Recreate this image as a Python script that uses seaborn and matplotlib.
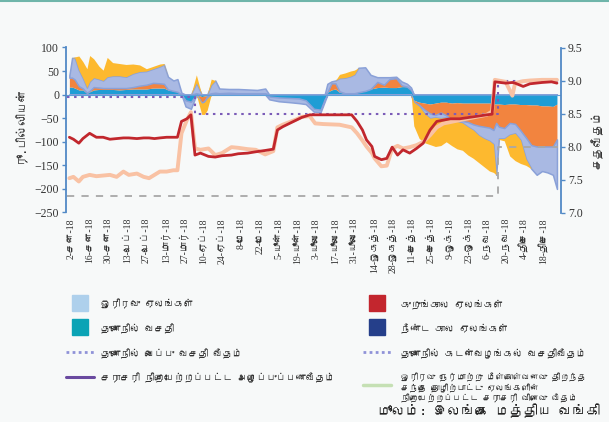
import numpy as np
import pandas as pd
import matplotlib
matplotlib.use("Agg")
import matplotlib.pyplot as plt
import seaborn as sns
import matplotlib.font_manager as fm
from matplotlib.ft2font import FT2Font
from matplotlib.lines import Line2D

# ---------------- data ----------------
area_dates = ['2018-01-01','2018-01-03','2018-01-05','2018-01-08','2018-01-11','2018-01-14','2018-01-16','2018-01-19','2018-01-23','2018-01-26',
              '2018-01-29','2018-02-02','2018-02-07','2018-02-12','2018-02-17','2018-02-22','2018-02-27','2018-03-04','2018-03-09','2018-03-12',
              '2018-03-15','2018-03-19','2018-03-22','2018-03-25','2018-03-28','2018-04-01','2018-04-05','2018-04-09','2018-04-11','2018-04-13',
              '2018-04-16','2018-04-19','2018-04-22','2018-04-29','2018-05-06','2018-05-13','2018-05-20','2018-05-26','2018-05-29','2018-06-05',
              '2018-06-13','2018-06-20','2018-06-25','2018-07-01','2018-07-06','2018-07-09','2018-07-11','2018-07-14','2018-07-17','2018-07-20',
              '2018-07-24','2018-07-28','2018-07-31','2018-08-03','2018-08-08','2018-08-12','2018-08-17','2018-08-22','2018-08-26','2018-08-31',
              '2018-09-04','2018-09-08','2018-09-11','2018-09-13','2018-09-17','2018-09-21','2018-09-25','2018-09-29','2018-10-03','2018-10-07',
              '2018-10-11','2018-10-15','2018-10-19','2018-10-23','2018-10-27','2018-10-31','2018-11-04','2018-11-08','2018-11-11','2018-11-13',
              '2018-11-15','2018-11-19','2018-11-23','2018-11-27','2018-12-01','2018-12-05','2018-12-09','2018-12-13','2018-12-17','2018-12-21',
              '2018-12-25','2018-12-28']
standing_facility = [16, 16, 14, 10, 10, 3, 6, 10, 11, 11,
                     11, 11, 10, 11, 12, 12, 12, 14, 14, 14,
                     10, 8, 6, 0, -12, -15, 3, -4, -3, -2,
                     3, 4, 3, 4, 3, 3, 3, 3, -4, -6,
                     -7, -8, -12, -30, -32, -10, 5, 10, 12, 5,
                     3, 3, 3, 5, 8, 12, 15, 16, 15, 15,
                     17, 17, 10, -12, -16, -18, -20, -18, -16, -16,
                     -18, -17, -18, -18, -18, -18, -18, -18, -20, -20,
                     -20, -21, -20, -20, -21, -21, -22, -22, -24, -24,
                     -25, -20]
short_term = [20, 20, 18, 8, 3, 1, 2, 6, 4, 3,
              3, 3, 4, 3, 4, 7, 9, 11, 10, 9,
              1, 0, 0, 0, 0, 0, 0, -14, -10, -2,
              0, 0, 0, 0, 0, 0, 0, 0, 0, 0,
              0, 0, 0, 0, 0, 0, 0, 14, 12, 2,
              0, 0, 0, 0, 0, 0, 12, 5, 18, 20,
              3, 0, 0, -4, -6, -14, -20, -25, -22, -28,
              -35, -40, -38, -40, -45, -48, -50, -52, -55, -40,
              -48, -50, -40, -42, -55, -70, -85, -88, -86, -86,
              -85, -75]
overnight = [5, 42, 46, 34, 22, 11, 20, 20, 18, 16,
             24, 26, 26, 24, 29, 30, 29, 30, 36, 41,
             27, 22, 27, 4, -13, -15, 22, 0, -3, -4,
             18, 26, 10, 8, 9, 8, 7, 10, -6, -8,
             -9, -10, -8, -6, -5, -5, 18, 4, 6, 28,
             33, 36, 40, 52, 50, 30, 10, 16, 4, 3,
             8, 6, 5, 0, -3, -8, -10, -5, -12, -4,
             0, 0, -4, -10, -12, -20, -25, -28, -30, -110,
             -25, -22, -25, -20, -20, -45, -50, -60, -52, -55,
             -60, -105]
long_term = [0, 0, 2, 30, 35, 40, 55, 40, 27, 22,
             41, 28, 26, 26, 20, 14, 5, 5, 5, 2,
             0, 0, 0, 0, 0, 0, 17, -24, -26, -25,
             12, 0, 0, 0, 0, 0, 0, 0, 0, 0,
             0, 0, 0, 0, 0, 0, 0, 0, 0, 8,
             10, 11, 9, 0, 0, 0, 0, 0, 0, 0,
             0, 0, 0, -50, -68, -62, -56, -62, -58, -52,
             -55, -58, -58, -60, -60, -58, -60, -64, -60, 0,
             -2, -5, -45, -58, -50, -14, 0, 0, 0, 0,
             0, 0]

rate_dates = ['2018-01-01','2018-01-04','2018-01-08','2018-01-11','2018-01-16','2018-01-21','2018-01-26','2018-01-31','2018-02-05','2018-02-10',
              '2018-02-14','2018-02-20','2018-02-25','2018-03-01','2018-03-05','2018-03-09','2018-03-14','2018-03-19','2018-03-22','2018-03-25',
              '2018-03-29','2018-04-01','2018-04-04','2018-04-08','2018-04-14','2018-04-19','2018-04-24','2018-05-01','2018-05-06','2018-05-13',
              '2018-05-19','2018-05-26','2018-06-01','2018-06-04','2018-06-08','2018-06-13','2018-06-18','2018-06-22','2018-06-28','2018-07-02',
              '2018-07-08','2018-07-20','2018-07-29','2018-08-02','2018-08-06','2018-08-09','2018-08-13','2018-08-15','2018-08-20','2018-08-24',
              '2018-08-28','2018-09-01','2018-09-05','2018-09-10','2018-09-15','2018-09-20','2018-09-25','2018-09-30','2018-10-05','2018-10-10',
              '2018-10-17','2018-10-27','2018-11-06','2018-11-10','2018-11-12','2018-11-20','2018-11-25','2018-11-27','2018-12-03','2018-12-08',
              '2018-12-17','2018-12-24','2018-12-28']
awcmr = [8.14, 8.11, 8.05, 8.12, 8.20, 8.14, 8.14, 8.11, 8.12, 8.13,
         8.13, 8.12, 8.13, 8.13, 8.12, 8.13, 8.14, 8.14, 8.14, 8.38,
         8.42, 8.48, 7.87, 7.90, 7.85, 7.84, 7.86, 7.87, 7.89, 7.90,
         7.92, 7.94, 7.96, 8.25, 8.30, 8.35, 8.40, 8.44, 8.48, 8.48,
         8.48, 8.48, 8.48, 8.38, 8.25, 8.10, 8.00, 7.85, 7.80, 7.82,
         7.99, 7.87, 7.95, 7.90, 7.97, 8.05, 8.25, 8.38, 8.40, 8.42,
         8.42, 8.45, 8.48, 8.49, 8.98, 8.96, 8.97, 8.96, 8.91, 8.95,
         8.97, 8.98, 8.96]
repo_yield = [7.52, 7.54, 7.47, 7.54, 7.57, 7.55, 7.56, 7.57, 7.54, 7.62,
              7.57, 7.59, 7.54, 7.52, 7.57, 7.62, 7.62, 7.64, 7.64, 8.20,
              8.40, 8.52, 7.97, 7.95, 7.97, 7.87, 7.90, 7.99, 7.98, 7.96,
              7.95, 7.88, 7.93, 8.29, 8.33, 8.37, 8.41, 8.45, 8.46, 8.35,
              8.34, 8.33, 8.29, 8.20, 8.09, 8.00, 7.90, 7.82, 7.70, 7.71,
              7.97, 8.01, 7.97, 7.99, 8.02, 8.07, 8.17, 8.29, 8.35, 8.37,
              8.40, 8.44, 8.48, 8.53, 9.01, 8.98, 8.77, 8.96, 8.99, 9.00,
              9.01, 9.01, 9.01]

policy_dates = ['2017-12-30', '2018-04-04', '2018-11-14', '2018-12-29']
slfr = [8.75, 8.50, 9.00, 9.00]
sdfr = [7.25, 7.25, 8.00, 8.00]

tick_dates = ['2018-01-02','2018-01-16','2018-01-30','2018-02-13','2018-02-27','2018-03-13','2018-03-27','2018-04-10','2018-04-24',
              '2018-05-08','2018-05-22','2018-06-05','2018-06-19','2018-07-03','2018-07-17','2018-07-31','2018-08-14','2018-08-28',
              '2018-09-11','2018-09-25','2018-10-09','2018-10-23','2018-11-06','2018-11-20','2018-12-04','2018-12-18']
tick_labels = ['2-சன-18','16-சன-18','30-சன-18','13-பெப்-18','27-பெப்-18','13-மார்-18','27-மார்-18','10-ஏப்-18','24-ஏப்-18',
               '8-மே-18','22-மே-18','5-யூன்-18','19-யூன்-18','3-யூலை-18','17-யூலை-18','31-யூலை-18','14-ஓகத்-18','28-ஓகத்-18',
               '11-செத்-18','25-செத்-18','9-ஒக்-18','23-ஒக்-18','6-நவ-18','20-நவ-18','4-திசெ-18','18-திசெ-18']

legend_left = ['ஓரிரவு ஏலங்கள்', 'துணைநில் வசதி', 'துணைநில் வைப்பு வசதி வீதம்',
               'சராசரி நிறையேற்றப்பட்ட அழைப்புப்பணவீதம்']
legend_right = ['குறுங்கால ஏலங்கள்', 'நீண்ட கால ஏலங்கள்', 'துணைநில் கடன்வழங்கல் வசதிவீதம்',
                'ஓரிரவு நேர்மாற்று மீள்கொள்வனவு திறந்த\nசந்தை தொழிற்பாட்டு ஏலங்களின்\nநிறையேற்றப்பட்ட சராசரி விளைவு வீதம்']

# ---------------- fonts ----------------
sns.set_theme(style="white")
tamil = None
for f in fm.fontManager.ttflist:
    try:
        cm = FT2Font(f.fname).get_charmap()
        if 0x0BAE in cm and 0x0BB2 in cm and 0x0BCD in cm:
            tamil = f.name
            break
    except Exception:
        pass
sans = ([tamil] if tamil else []) + ['DejaVu Sans']
serif = ['Liberation Serif'] + ([tamil] if tamil else []) + ['DejaVu Sans']
plt.rcParams['font.family'] = sans

BG = '#f7f9f9'
TXT = '#333333'
SPINE = '#5189c6'

fig = plt.figure(figsize=(6.09, 4.22), dpi=100, facecolor=BG)
ax = fig.add_axes([66/609, 1-212.5/422, 495/609, 165/422])
ax.set_facecolor(BG)

# stacked areas
d = pd.to_datetime(area_dates)
layers = [(standing_facility, '#1f9dd5', None),
          (short_term, '#f2843f', None),
          (overnight, '#a9b9e3', '#8aa1d8'),
          (long_term, '#fdb92f', None)]
pos = np.zeros(len(d))
neg = np.zeros(len(d))
for vals, col, edge in layers:
    v = np.asarray(vals, dtype=float)
    p = np.clip(v, 0, None)
    q = np.clip(v, None, 0)
    kw = dict(color=col, lw=0) if edge is None else dict(facecolor=col, edgecolor=edge, lw=1.1)
    ax.fill_between(d, pos, pos + p, **kw)
    ax.fill_between(d, neg, neg + q, **kw)
    pos += p
    neg += q
ax.axhline(0, color='#5fa0d8', lw=0.8)

ax.set_ylim(-250, 100)
ax.set_yticks(np.arange(-250, 101, 50))
xmin, xmax = pd.Timestamp('2017-12-29 12:00'), pd.Timestamp('2018-12-31')
ax.set_xlim(xmin, xmax)
ax.set_xticks(pd.to_datetime(tick_dates))
ax.set_xticklabels(tick_labels, rotation=90, fontsize=7, color=TXT, family=serif)
ax.tick_params(axis='x', length=0, pad=4)
ax.tick_params(axis='y', direction='out', length=3, color=SPINE, width=1, labelsize=8.5, labelcolor=TXT, pad=2)
for lab in ax.get_yticklabels():
    lab.set_family(serif)
for s in ['top', 'bottom', 'right']:
    ax.spines[s].set_visible(False)
ax.spines['left'].set_color(SPINE)
ax.spines['left'].set_linewidth(1.3)
ax.set_xlabel('')
ax.set_ylabel('')

# rate lines on right axis
ax2 = ax.twinx()
ax2.set_ylim(7.0, 9.5)
ax2.set_xlim(xmin, xmax)
rd = pd.to_datetime(rate_dates)
pdts = pd.to_datetime(policy_dates)
sns.lineplot(x=pdts, y=sdfr, ax=ax2, color='#a8a8a8', lw=1.3, drawstyle='steps-post', linestyle=(0, (4, 4)))
sns.lineplot(x=pdts, y=slfr, ax=ax2, color='#7b5cb8', lw=1.5, drawstyle='steps-post', linestyle=(0, (1.2, 2.2)))
sns.lineplot(x=rd, y=repo_yield, ax=ax2, color='#f9c2a4', lw=2.8)
sns.lineplot(x=rd, y=awcmr, ax=ax2, color='#c1272d', lw=2.0)
ax2.set_yticks(np.arange(7.0, 9.51, 0.5))
ax2.set_yticklabels([f'{v:.1f}' for v in np.arange(7.0, 9.51, 0.5)], family=serif)
ax2.tick_params(axis='y', direction='out', length=3, color=SPINE, width=1, labelsize=8.5, labelcolor=TXT, pad=2)
for s in ['top', 'bottom', 'left']:
    ax2.spines[s].set_visible(False)
ax2.spines['right'].set_color(SPINE)
ax2.spines['right'].set_linewidth(1.3)
ax2.set_xlabel('')
ax2.set_ylabel('')
ax2.set_xlim(xmin, xmax)

fig.text(20/609, 1-125/422, 'ரூ.பில்லியன்', rotation=90, ha='center', va='center', fontsize=8.5, color=TXT)
fig.text(597/609, 1-140/422, 'சதவீதம்', rotation=90, ha='center', va='center', fontsize=8.5, color=TXT)

# legend
def sq(c):
    return Line2D([], [], marker='s', markersize=11.5, color=c, linestyle='None')
h_left = [sq('#aed0ec'), sq('#0aa3b5'),
          Line2D([], [], color='#8f92d8', lw=2, linestyle=(0, (1, 1.2))),
          Line2D([], [], color='#6a4aa0', lw=2.2)]
h_right = [sq('#c3262e'), sq('#253f8a'),
           Line2D([], [], color='#8f92d8', lw=2, linestyle=(0, (1, 1.2))),
           Line2D([], [], color='#c5e0b4', lw=2.5)]
lk = dict(frameon=False, fontsize=7, handlelength=2.9, handleheight=1.6, labelspacing=1.26,
          borderpad=0, borderaxespad=0, labelcolor=TXT, loc='upper left')
fig.legend(h_left, legend_left, bbox_to_anchor=(66/609, 1-298/422), handletextpad=0.72, **lk)
leg_r = fig.legend(h_right, legend_right, bbox_to_anchor=(363/609, 1-298/422), handletextpad=1.05, **lk)
long_txt = leg_r.get_texts()[3]
long_txt.set_fontsize(6.2)
long_txt.set_linespacing(1.2)

fig.text(600/609, 1-411/422, 'மூலம்: இலங்கை மத்திய வங்கி', ha='right', va='center', fontsize=10, color='#222222')
fig.add_artist(Line2D([0, 1], [0.997, 0.997], transform=fig.transFigure, color='#6fb5aa', lw=1.5))

fig.savefig('out.png', dpi=100, facecolor=BG)
